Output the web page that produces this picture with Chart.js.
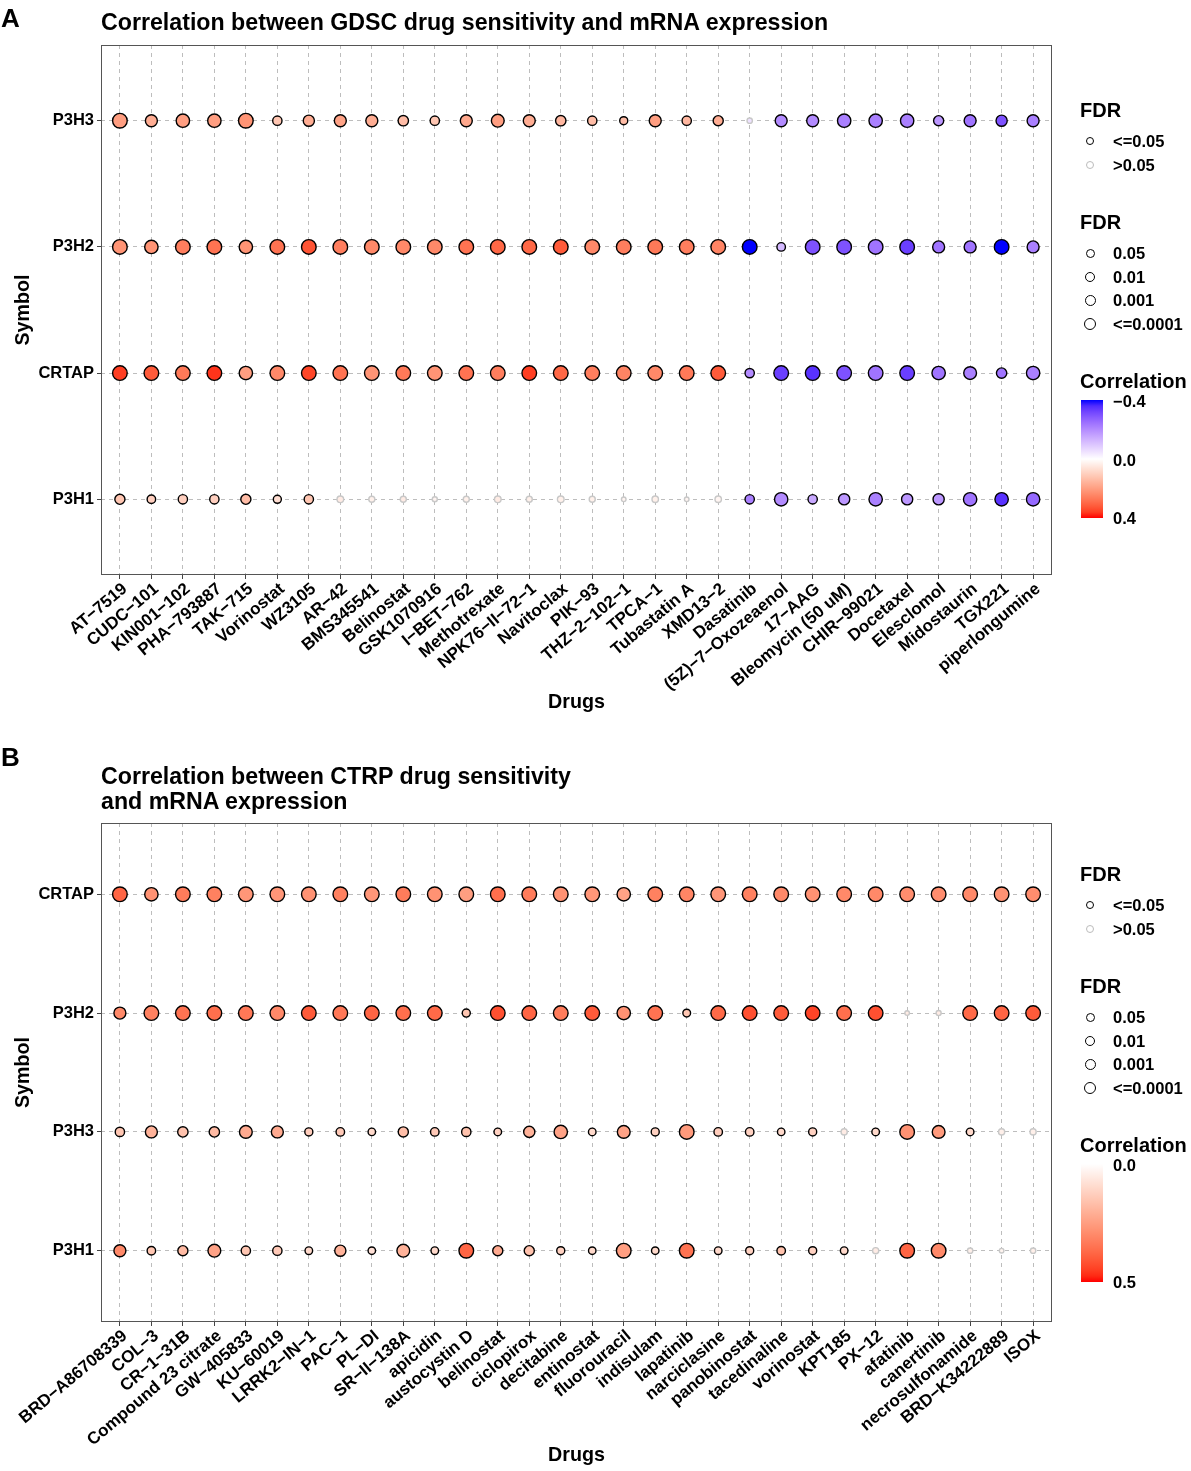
<!DOCTYPE html>
<html>
<head>
<meta charset="utf-8">
<script src="https://cdn.jsdelivr.net/npm/chart.js@4.4.1/dist/chart.umd.min.js"></script>
<style>
  body { margin: 0; background: #fff; }
  #page { position: relative; width: 1191px; height: 1471px; font-family: "Liberation Sans", Arial, sans-serif; color: #000; }
  canvas { position: absolute; left: 0; }
  .txt { position: absolute; font-weight: bold; white-space: nowrap; }
  .dot { position: absolute; border-radius: 50%; box-sizing: border-box; background: #fff; }
  .bar { position: absolute; width: 22px; height: 118px; }
</style>
</head>
<body>
<div id="page">
  <canvas id="chartA" width="1191" height="740" style="top:0"></canvas>
  <canvas id="chartB" width="1191" height="731" style="top:740px"></canvas>
</div>
<script>
// ---- panel A : GDSC ----
const drugsA = ['AT−7519', 'CUDC−101', 'KIN001−102', 'PHA−793887', 'TAK−715', 'Vorinostat', 'WZ3105', 'AR−42',
  'BMS345541', 'Belinostat', 'GSK1070916', 'I−BET−762', 'Methotrexate', 'NPK76−II−72−1', 'Navitoclax', 'PIK−93',
  'THZ−2−102−1', 'TPCA−1', 'Tubastatin A', 'XMD13−2', 'Dasatinib', '(5Z)−7−Oxozeaenol', '17−AAG', 'Bleomycin (50 uM)',
  'CHIR−99021', 'Docetaxel', 'Elesclomol', 'Midostaurin', 'TGX221', 'piperlongumine'];
const symbolsA = ['P3H1', 'CRTAP', 'P3H2', 'P3H3']; // bottom to top

const corA_P3H1 = [0.12, 0.10, 0.10, 0.10, 0.14, 0.07, 0.12, 0.04, 0.03, 0.04, 0.02, 0.03, 0.04, 0.03, 0.03,
  0.03, 0.02, 0.03, 0.02, 0.02, -0.22, -0.20, -0.15, -0.18, -0.22, -0.18, -0.18, -0.24, -0.35, -0.26];
const fdrA_P3H1 = [0.005, 0.02, 0.01, 0.01, 0.005, 0.03, 0.01, 0.1, 0.17, 0.17, 0.4, 0.17, 0.1, 0.17, 0.1,
  0.17, 0.6, 0.12, 0.6, 0.12, 0.01, 0.0003, 0.01, 0.002, 0.0003, 0.002, 0.002, 0.0003, 0.0003, 0.0003];
const corA_CRTAP = [0.36, 0.32, 0.27, 0.37, 0.20, 0.24, 0.35, 0.28, 0.22, 0.27, 0.22, 0.28, 0.26, 0.36, 0.30,
  0.26, 0.25, 0.24, 0.27, 0.32, -0.20, -0.33, -0.35, -0.30, -0.24, -0.33, -0.24, -0.22, -0.24, -0.22];
const fdrA_CRTAP = [0.00001, 0.00001, 0.00005, 0.00001, 0.0003, 0.00005, 0.00001, 0.00005, 0.0001, 0.00005, 0.0001, 0.00005, 0.00005, 0.00001, 0.00005,
  0.00005, 0.00005, 0.0001, 0.00005, 0.00001, 0.01, 0.00001, 0.00001, 0.00001, 0.0001, 0.00001, 0.0003, 0.0005, 0.004, 0.0003];
const corA_P3H2 = [0.22, 0.22, 0.26, 0.28, 0.22, 0.28, 0.33, 0.26, 0.24, 0.24, 0.24, 0.28, 0.30, 0.30, 0.32,
  0.24, 0.26, 0.27, 0.26, 0.25, -0.40, -0.12, -0.30, -0.30, -0.24, -0.33, -0.24, -0.24, -0.40, -0.22];
const fdrA_P3H2 = [0.0001, 0.0003, 0.00005, 0.00005, 0.0003, 0.00005, 0.00001, 0.00005, 0.0001, 0.0001, 0.0001, 0.00005, 0.00005, 0.00005, 0.00001,
  0.0001, 0.00005, 0.00005, 0.00005, 0.0001, 0.00001, 0.02, 0.00005, 0.00005, 0.0001, 0.00001, 0.001, 0.001, 0.00001, 0.001];
const corA_P3H3 = [0.20, 0.17, 0.20, 0.20, 0.22, 0.12, 0.17, 0.19, 0.17, 0.14, 0.12, 0.18, 0.20, 0.17, 0.15,
  0.14, 0.14, 0.20, 0.15, 0.17, -0.05, -0.20, -0.20, -0.22, -0.22, -0.22, -0.18, -0.24, -0.30, -0.22];
const fdrA_P3H3 = [0.0001, 0.001, 0.0003, 0.0003, 0.0001, 0.01, 0.002, 0.001, 0.001, 0.004, 0.01, 0.001, 0.0005, 0.001, 0.004,
  0.01, 0.03, 0.001, 0.01, 0.005, 0.3, 0.001, 0.001, 0.0003, 0.0003, 0.0003, 0.005, 0.001, 0.002, 0.001];

// ---- panel B : CTRP ----
const drugsB = ['BRD−A86708339', 'COL−3', 'CR−1−31B', 'Compound 23 citrate', 'GW−405833', 'KU−60019', 'LRRK2−IN−1',
  'PAC−1', 'PL−DI', 'SR−II−138A', 'apicidin', 'austocystin D', 'belinostat', 'ciclopirox', 'decitabine', 'entinostat',
  'fluorouracil', 'indisulam', 'lapatinib', 'narciclasine', 'panobinostat', 'tacedinaline', 'vorinostat', 'KPT185',
  'PX−12', 'afatinib', 'canertinib', 'necrosulfonamide', 'BRD−K34222889', 'ISOX'];
const symbolsB = ['P3H1', 'P3H3', 'P3H2', 'CRTAP']; // bottom to top

const corB_P3H1 = [0.30, 0.15, 0.18, 0.24, 0.15, 0.14, 0.10, 0.20, 0.08, 0.20, 0.10, 0.38, 0.22, 0.16, 0.12,
  0.10, 0.25, 0.10, 0.35, 0.10, 0.12, 0.16, 0.12, 0.10, 0.05, 0.38, 0.30, 0.04, 0.03, 0.04];
const fdrB_P3H1 = [0.001, 0.02, 0.005, 0.0005, 0.01, 0.01, 0.045, 0.002, 0.05, 0.0005, 0.045, 0.0001, 0.005, 0.005, 0.03,
  0.05, 0.0001, 0.05, 0.0001, 0.045, 0.03, 0.02, 0.03, 0.045, 0.15, 0.0001, 0.0001, 0.3, 0.6, 0.3];
const corB_P3H3 = [0.15, 0.20, 0.16, 0.18, 0.22, 0.22, 0.13, 0.14, 0.10, 0.17, 0.14, 0.16, 0.12, 0.20, 0.24,
  0.10, 0.24, 0.12, 0.26, 0.13, 0.12, 0.10, 0.12, 0.05, 0.10, 0.28, 0.26, 0.10, 0.04, 0.04];
const fdrB_P3H3 = [0.01, 0.001, 0.004, 0.004, 0.0005, 0.001, 0.03, 0.02, 0.05, 0.005, 0.02, 0.01, 0.045, 0.002, 0.0003,
  0.045, 0.0005, 0.03, 0.0001, 0.02, 0.02, 0.05, 0.03, 0.15, 0.045, 0.0001, 0.0005, 0.045, 0.15, 0.15];
const corB_P3H2 = [0.30, 0.32, 0.35, 0.36, 0.34, 0.30, 0.40, 0.34, 0.38, 0.36, 0.37, 0.15, 0.42, 0.38, 0.33,
  0.40, 0.28, 0.35, 0.15, 0.37, 0.42, 0.40, 0.44, 0.36, 0.42, 0.05, 0.05, 0.37, 0.38, 0.40];
const fdrB_P3H2 = [0.001, 0.0001, 0.00005, 0.00005, 0.0001, 0.0001, 0.00001, 0.0001, 0.00005, 0.00005, 0.00005, 0.03, 0.00001, 0.00005, 0.0001,
  0.00001, 0.0003, 0.00005, 0.04, 0.00005, 0.00001, 0.00001, 0.00001, 0.00005, 0.00001, 0.6, 0.4, 0.00005, 0.00005, 0.00001];
const corB_CRTAP = [0.38, 0.28, 0.33, 0.32, 0.27, 0.27, 0.28, 0.32, 0.27, 0.33, 0.28, 0.25, 0.36, 0.33, 0.28,
  0.27, 0.24, 0.32, 0.31, 0.27, 0.32, 0.30, 0.28, 0.30, 0.30, 0.29, 0.29, 0.30, 0.28, 0.29];
const fdrB_CRTAP = [0.00001, 0.0003, 0.00005, 0.00005, 0.0001, 0.0001, 0.0001, 0.00005, 0.0001, 0.00005, 0.0001, 0.0001, 0.00001, 0.00005, 0.0001,
  0.0001, 0.0003, 0.00005, 0.00005, 0.0001, 0.00005, 0.00005, 0.0001, 0.00005, 0.00005, 0.0001, 0.0001, 0.00005, 0.0001, 0.0001];

const fdrSigLabels = ['<=0.05', '>0.05'];
const fdrSizeLabels = ['0.05', '0.01', '0.001', '<=0.0001'];
const legendDotSizes = [9, 10, 11, 12.5];

const FONT = '"Liberation Sans", Arial, sans-serif';
Chart.defaults.font.family = FONT;
Chart.defaults.color = '#000';

// colour interpolation in Lab space, like ggplot's gradient scales
const lin = c => { c /= 255; return c <= 0.04045 ? c / 12.92 : Math.pow((c + 0.055) / 1.055, 2.4); };
const gam = c => {
  const v = c <= 0.0031308 ? 12.92 * c : 1.055 * Math.pow(c, 1 / 2.4) - 0.055;
  return Math.round(Math.max(0, Math.min(1, v)) * 255);
};
function toLab(rgb) {
  const [r, g, b] = rgb.map(lin);
  const x = (0.4124 * r + 0.3576 * g + 0.1805 * b) / 0.95047;
  const y = 0.2126 * r + 0.7152 * g + 0.0722 * b;
  const z = (0.0193 * r + 0.1192 * g + 0.9505 * b) / 1.08883;
  const f = t => t > 0.008856 ? Math.cbrt(t) : 7.787 * t + 16 / 116;
  return [116 * f(y) - 16, 500 * (f(x) - f(y)), 200 * (f(y) - f(z))];
}
function fromLab([L, a, b]) {
  const fy = (L + 16) / 116, fx = fy + a / 500, fz = fy - b / 200;
  const fi = t => t ** 3 > 0.008856 ? t ** 3 : (t - 16 / 116) / 7.787;
  const x = fi(fx) * 0.95047, y = fi(fy), z = fi(fz) * 1.08883;
  const r = 3.2406 * x - 1.5372 * y - 0.4986 * z;
  const g = -0.9689 * x + 1.8758 * y + 0.0415 * z;
  const bl = 0.0557 * x - 0.2040 * y + 1.0570 * z;
  return `rgb(${gam(r)},${gam(g)},${gam(bl)})`;
}
const labWhite = toLab([255, 255, 255]);
const labBlue = toLab([0, 0, 255]);
const labRed = toLab([255, 0, 0]);
function mix(lab, t) {
  t = Math.max(0, Math.min(1, t));
  return fromLab(labWhite.map((w, i) => w + (lab[i] - w) * t));
}
const colorA = v => v < 0 ? mix(labBlue, -v / 0.4) : mix(labRed, v / 0.4);
const colorB = v => mix(labRed, v / 0.5);

// -log10(FDR) -> bubble radius, capped at 1e-4
const radius = f => 2 + 1.33 * Math.min(-Math.log10(f), 4);

const panelBorder = {
  id: 'panelBorder',
  beforeDatasetsDraw(chart) {
    const { ctx, chartArea: a } = chart;
    ctx.save();
    ctx.strokeStyle = '#555';
    ctx.lineWidth = 1;
    ctx.strokeRect(a.left + 0.5, a.top + 0.5, a.right - a.left - 1, a.bottom - a.top - 1);
    ctx.restore();
  }
};

function renderChart(id, drugs, symbols, cors, fdrs, colorFn, top, xHeight, xTitlePad) {
  const datasets = symbols.map((s, i) => ({
    label: s,
    data: drugs.map((d, j) => ({ x: j + 1, y: i + 1, r: radius(fdrs[i][j]) })),
    backgroundColor: cors[i].map(colorFn),
    borderColor: fdrs[i].map(f => f <= 0.05 ? '#000' : '#c8c8c8'),
    borderWidth: 1.4
  }));
  const gridOpts = { color: '#bdbdbd', lineWidth: 1, tickLength: 4, tickColor: '#444', tickWidth: 1 };
  new Chart(document.getElementById(id), {
    type: 'bubble',
    data: { datasets },
    plugins: [panelBorder],
    options: {
      responsive: false,
      animation: false,
      layout: { padding: { left: 0, top: top, right: 139, bottom: 0 } },
      plugins: { legend: { display: false }, tooltip: { enabled: false } },
      scales: {
        x: {
          type: 'linear', min: 0.4, max: drugs.length + 0.6,
          afterBuildTicks: s => { s.ticks = drugs.map((d, j) => ({ value: j + 1 })); },
          afterFit: s => { s.height = xHeight; s.paddingLeft = 0; },
          ticks: {
            autoSkip: false, maxRotation: 40, minRotation: 40, padding: 0, labelOffset: 5,
            font: { size: 17, weight: 'bold' }, color: '#000',
            callback: v => drugs[v - 1]
          },
          grid: gridOpts,
          border: { display: false, dash: [4, 4] },
          title: { display: true, text: 'Drugs', font: { size: 19.7, weight: 'bold' }, color: '#000', padding: { top: 0, bottom: xTitlePad } }
        },
        y: {
          type: 'linear', min: 0.4, max: symbols.length + 0.6,
          afterBuildTicks: s => { s.ticks = symbols.map((d, j) => ({ value: j + 1 })); },
          afterFit: s => { s.width = 101; },
          ticks: {
            autoSkip: false, padding: 3,
            font: { size: 16.5, weight: 'bold' }, color: '#000',
            callback: v => symbols[v - 1]
          },
          grid: gridOpts,
          border: { display: false, dash: [4, 4] },
          title: { display: true, text: 'Symbol', font: { size: 19.7, weight: 'bold' }, color: '#000', padding: { top: 12, bottom: 0 } }
        }
      }
    }
  });
}

renderChart('chartA', drugsA, symbolsA,
  [corA_P3H1, corA_CRTAP, corA_P3H2, corA_P3H3],
  [fdrA_P3H1, fdrA_CRTAP, fdrA_P3H2, fdrA_P3H3], colorA, 45, 165, 26);
renderChart('chartB', drugsB, symbolsB,
  [corB_P3H1, corB_P3H3, corB_P3H2, corB_CRTAP],
  [fdrB_P3H1, fdrB_P3H3, fdrB_P3H2, fdrB_CRTAP], colorB, 83, 149, 4);

// ---- titles and legends (html text) ----
const page = document.getElementById('page');
function text(str, left, cy, size) {
  const el = document.createElement('div');
  el.className = 'txt';
  el.textContent = str;
  const lh = Math.round(size * 1.2);
  el.style.left = left + 'px';
  el.style.fontSize = size + 'px';
  el.style.lineHeight = lh + 'px';
  el.style.top = (cy - lh / 2) + 'px';
  page.appendChild(el);
  return el;
}
function dot(cx, cy, d, border) {
  const el = document.createElement('div');
  el.className = 'dot';
  Object.assign(el.style, { left: (cx - d / 2) + 'px', top: (cy - d / 2) + 'px', width: d + 'px', height: d + 'px', border: '1.6px solid ' + border });
  page.appendChild(el);
}
function legend(y0, corTicks, corValues, colorFn) {
  text('FDR', 1080, y0, 20);
  fdrSigLabels.forEach((l, i) => {
    dot(1090, y0 + 31 + i * 24, 8, i === 0 ? '#000' : '#bbb');
    text(l, 1113, y0 + 31 + i * 24, 16.5);
  });
  text('FDR', 1080, y0 + 112, 20);
  fdrSizeLabels.forEach((l, i) => {
    dot(1090, y0 + 143 + i * 23.7, legendDotSizes[i], '#000');
    text(l, 1113, y0 + 143 + i * 23.7, 16.5);
  });
  text('Correlation', 1080, y0 + 271, 20);
  const bar = document.createElement('div');
  bar.className = 'bar';
  const lo = corValues[0], hi = corValues[corValues.length - 1];
  const stops = [];
  for (let k = 0; k <= 20; k++) stops.push(colorFn(lo + (hi - lo) * k / 20) + ' ' + (k * 5) + '%');
  Object.assign(bar.style, { left: '1081px', top: (y0 + 290) + 'px', background: 'linear-gradient(to bottom,' + stops.join(',') + ')' });
  page.appendChild(bar);
  corTicks.forEach((t, i) => {
    const frac = (corValues[i] - lo) / (hi - lo);
    text(t, 1113, y0 + 291 + frac * 117, 16.5);
  });
}

text('A', 1, 18, 26);
text('Correlation between GDSC drug sensitivity and mRNA expression', 101, 22, 23.2);
text('B', 1, 757, 26);
text('Correlation between CTRP drug sensitivity', 101, 776, 23.2);
text('and mRNA expression', 101, 801, 23.2);

const corTicksA = ['−0.4', '0.0', '0.4'];
const corTickValuesA = [-0.4, 0, 0.4];
const corTicksB = ['0.0', '0.5'];
const corTickValuesB = [0, 0.5];
legend(110, corTicksA, corTickValuesA, colorA);
legend(874, corTicksB, corTickValuesB, colorB);
</script>
</body>
</html>
